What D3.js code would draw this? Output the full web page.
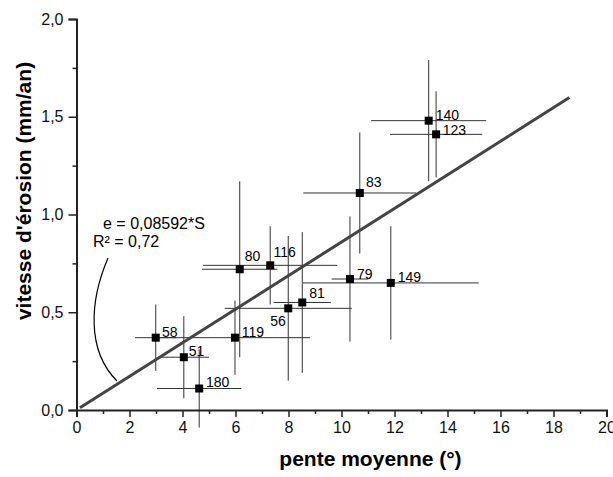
<!DOCTYPE html>
<html>
<head>
<meta charset="utf-8">
<script src="https://cdn.jsdelivr.net/npm/d3@7"></script>
<style>
  html, body { margin: 0; padding: 0; background: #fff; }
  svg { display: block; font-family: "Liberation Sans", Arial, sans-serif; }
</style>
</head>
<body>
<svg id="chart" width="613" height="477"></svg>
<script>
// ---- data ----
const siteLabels = ["140", "123", "83", "79", "149", "81", "56", "116", "80", "119", "58", "51", "180"];
const slopeValues = [13.29, 13.57, 10.69, 10.32, 11.86, 8.52, 7.99, 7.31, 6.16, 5.98, 2.99, 4.05, 4.63];
const erosionValues = [1.48, 1.41, 1.11, 0.67, 0.65, 0.55, 0.52, 0.74, 0.72, 0.37, 0.37, 0.27, 0.11];
const slopeErrors = [2.17, 1.74, 2.13, 0.69, 3.32, 1.08, 2.40, 2.53, 1.42, 2.83, 0.78, 0.95, 1.59];
const erosionErrors = [0.31, 0.22, 0.31, 0.32, 0.29, 0.36, 0.37, 0.20, 0.45, 0.19, 0.17, 0.21, 0.20];
const fitCoefficient = 0.08592;
const fitRange = [0.13, 18.6];
const xTicks = [0, 2, 4, 6, 8, 10, 12, 14, 16, 18, 20];
const xMinorTicks = [1, 3, 5, 7, 9, 11, 13, 15, 17, 19];
const yTicks = [0, 0.5, 1.0, 1.5, 2.0];
const yMinorTicks = [0.25, 0.75, 1.25, 1.75];
const equationLines = ["e = 0,08592*S", "R\u00B2 = 0,72"];
const xTitle = "pente moyenne (\u00B0)";
const yTitle = "vitesse d'\u00E9rosion (mm/an)";

// ---- layout (label nudges in pixels) ----
const labelNudge = [
  [7, -1, "start"], [6.7, 1, "start"], [6.3, -5.6, "start"], [7, 0, "start"],
  [7, -1, "start"], [7, -4.6, "start"], [-2.5, 17.3, "end"], [3.3, -8, "start"],
  [5, -8.3, "start"], [6.7, -0.6, "start"], [6.3, -0.6, "start"], [5, -1.3, "start"],
  [6.7, -1, "start"]
];

const svg = d3.select("#chart");
const x = d3.scaleLinear().domain([0, 20]).range([76.5, 606.5]);
const y = d3.scaleLinear().domain([0, 2]).range([410, 19]);
const fmt = v => d3.format(".1f")(v).replace(".", ",");

const points = siteLabels.map((lab, i) => ({
  lab, sx: slopeValues[i], ey: erosionValues[i], dx: slopeErrors[i], dy: erosionErrors[i], nudge: labelNudge[i]
}));

// error bars
const eb = svg.append("g").attr("stroke", "#333").attr("stroke-width", 1);
eb.selectAll("line.h").data(points).join("line").attr("class", "h")
  .attr("x1", d => x(d.sx - d.dx)).attr("x2", d => x(d.sx + d.dx))
  .attr("y1", d => y(d.ey)).attr("y2", d => y(d.ey));
eb.selectAll("line.v").data(points).join("line").attr("class", "v")
  .attr("x1", d => x(d.sx)).attr("x2", d => x(d.sx))
  .attr("y1", d => y(d.ey - d.dy)).attr("y2", d => y(d.ey + d.dy));

// fit line
svg.append("line")
  .attr("x1", x(fitRange[0])).attr("y1", y(fitCoefficient * fitRange[0]))
  .attr("x2", x(fitRange[1])).attr("y2", y(fitCoefficient * fitRange[1]))
  .attr("stroke", "#444").attr("stroke-width", 3);

// markers
const sq = 8;
svg.append("g").selectAll("rect").data(points).join("rect")
  .attr("x", d => x(d.sx) - sq / 2).attr("y", d => y(d.ey) - sq / 2)
  .attr("width", sq).attr("height", sq).attr("fill", "#000");

// point labels
svg.append("g").selectAll("text").data(points).join("text")
  .attr("x", d => x(d.sx) + d.nudge[0]).attr("y", d => y(d.ey) + d.nudge[1])
  .attr("text-anchor", d => d.nudge[2])
  .attr("font-size", 14).attr("fill", "#000").text(d => d.lab);

// axes
svg.append("g").attr("transform", "translate(0,410)")
  .call(d3.axisBottom(x).tickValues(xTicks).tickFormat(d3.format("d")).tickSize(7).tickPadding(5));
svg.append("g").attr("transform", "translate(0,410)")
  .call(d3.axisBottom(x).tickValues(xMinorTicks).tickFormat("").tickSize(4))
  .call(g => g.select(".domain").remove());
svg.append("g").attr("transform", "translate(76.5,0)")
  .call(d3.axisLeft(y).tickValues(yTicks).tickFormat(fmt).tickSize(8).tickPadding(5));
svg.append("g").attr("transform", "translate(76.5,0)")
  .call(d3.axisLeft(y).tickValues(yMinorTicks).tickFormat("").tickSize(4))
  .call(g => g.select(".domain").remove());

svg.selectAll(".domain").attr("stroke", "#222").attr("stroke-width", 2);
svg.selectAll(".tick line").attr("stroke", "#222").attr("stroke-width", 1.5);
svg.selectAll(".tick text").attr("font-size", 16).attr("fill", "#111")
  .attr("font-family", "'Liberation Sans', Arial, sans-serif");

// axis titles
svg.append("text").attr("x", 370.5).attr("y", 466).attr("text-anchor", "middle")
  .attr("font-size", 21).attr("font-weight", "bold").text(xTitle);
svg.append("text").attr("transform", "translate(31,191) rotate(-90)").attr("text-anchor", "middle")
  .attr("font-size", 21).attr("font-weight", "bold").text(yTitle);

// equation annotation
svg.append("text").attr("x", 103).attr("y", 229).attr("font-size", 16).text(equationLines[0]);
svg.append("text").attr("x", 93).attr("y", 247).attr("font-size", 16).text(equationLines[1]);
svg.append("path").attr("d", "M108,258 C90,300 86,350 117,381")
  .attr("fill", "none").attr("stroke", "#000").attr("stroke-width", 1.2);
</script>
</body>
</html>
